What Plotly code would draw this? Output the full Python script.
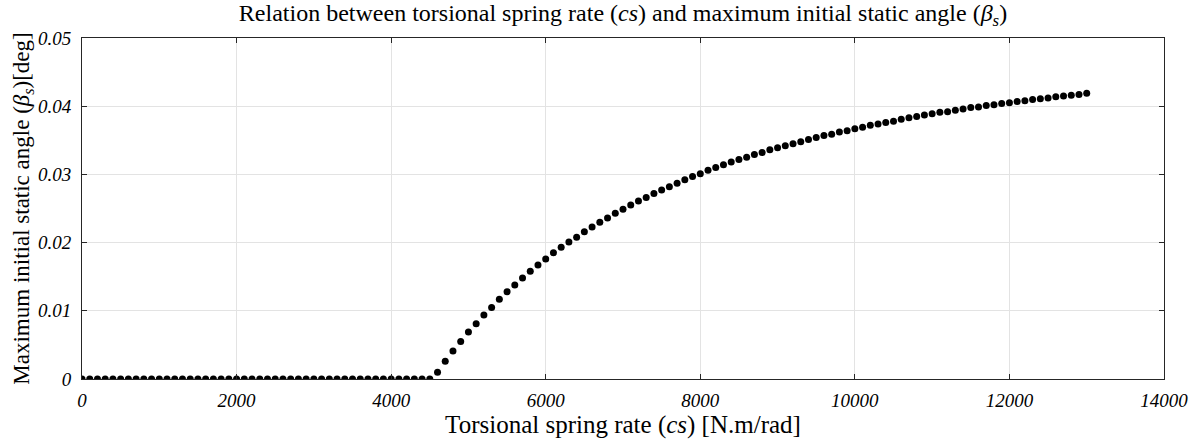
import plotly.graph_objects as go

# Torsional spring rate samples (N.m/rad), 0 .. 13000 in steps of 100
spring_rate = list(range(0, 13001, 100))

# Maximum initial static angle (deg)
beta_zero_part = [
    0.0, 0.0, 0.0, 0.0, 0.0, 0.0, 0.0, 0.0, 0.0, 0.0,
    0.0, 0.0, 0.0, 0.0, 0.0, 0.0, 0.0, 0.0, 0.0, 0.0,
    0.0, 0.0, 0.0, 0.0, 0.0, 0.0, 0.0, 0.0, 0.0, 0.0,
    0.0, 0.0, 0.0, 0.0, 0.0, 0.0, 0.0, 0.0, 0.0, 0.0,
    0.0, 0.0, 0.0, 0.0, 0.0, 0.0,
]  # 0 .. 4500
beta_rise_part = [
    0.0010, 0.0026, 0.0041, 0.0055, 0.0069, 0.0081, 0.0094, 0.0105, 0.0117, 0.0128,  # 4600-5500
    0.0138, 0.0148, 0.0158, 0.0167, 0.0176, 0.0185, 0.0193, 0.0201, 0.0208, 0.0216,  # 5600-6500
    0.0223, 0.0230, 0.0236, 0.0243, 0.0249, 0.0255, 0.0261, 0.0266, 0.0272, 0.0277,  # 6600-7500
    0.0282, 0.0287, 0.0292, 0.0297, 0.0301, 0.0306, 0.0310, 0.0314, 0.0318, 0.0322,  # 7600-8500
    0.0325, 0.0329, 0.0332, 0.0336, 0.0339, 0.0342, 0.0345, 0.0348, 0.0351, 0.0354,  # 8600-9500
    0.0357, 0.0359, 0.0362, 0.0364, 0.0367, 0.0369, 0.0372, 0.0374, 0.0376, 0.0378,  # 9600-10500
    0.0381, 0.0383, 0.0385, 0.0387, 0.0389, 0.0391, 0.0392, 0.0394, 0.0396, 0.0398,  # 10600-11500
    0.0399, 0.0401, 0.0402, 0.0404, 0.0405, 0.0407, 0.0408, 0.0410, 0.0411, 0.0412,  # 11600-12500
    0.0414, 0.0415, 0.0416, 0.0417, 0.0419,                                          # 12600-13000
]
beta_s = beta_zero_part + beta_rise_part

x_ticks = [0, 2000, 4000, 6000, 8000, 10000, 12000, 14000]
x_tick_labels = ["0", "2000", "4000", "6000", "8000", "10000", "12000", "14000"]
y_ticks = [0, 0.01, 0.02, 0.03, 0.04, 0.05]
y_tick_labels = ["0", "0.01", "0.02", "0.03", "0.04", "0.05"]

SERIF = "Liberation Serif, Times New Roman, serif"
AXIS_COLOR = "#262626"
GRID_COLOR = "#e3e3e3"

fig = go.Figure()
fig.add_trace(go.Scatter(
    x=spring_rate, y=beta_s, mode="markers",
    marker=dict(color="black", size=7, line=dict(width=0)),
    showlegend=False,
))

fig.update_layout(
    width=1200, height=443,
    margin=dict(l=82, r=36, t=38, b=64),
    paper_bgcolor="white", plot_bgcolor="white",
    title=dict(
        text="Relation between torsional spring rate (<i>cs</i>) and maximum initial static angle (<i>β<sub>s</sub></i>)",
        x=(82 + 1164) / 2 / 1200, xanchor="center",
        y=1 - 13 / 443, yanchor="middle",
        font=dict(family=SERIF, size=24, color="black"),
    ),
    font=dict(family=SERIF, color="black"),
)

common_axis = dict(
    showline=True, linecolor=AXIS_COLOR, linewidth=1, mirror="allticks",
    ticks="inside", ticklen=5, tickcolor=AXIS_COLOR, tickwidth=1,
    showgrid=True, gridcolor=GRID_COLOR, gridwidth=1,
    zeroline=False,
    tickfont=dict(family=SERIF, size=19, color="black", style="italic"),
)

fig.update_xaxes(
    range=[0, 14000], tickvals=x_ticks, ticktext=x_tick_labels,
    title=dict(text="Torsional spring rate (<i>cs</i>) [N.m/rad]",
               font=dict(family=SERIF, size=25, color="black"), standoff=1),
    ticklabelstandoff=4,
    **common_axis,
)
fig.update_yaxes(
    range=[0, 0.05], tickvals=y_ticks, ticktext=y_tick_labels,
    title=dict(text="Maximum initial static angle (<i>β<sub>s</sub></i>)[deg]",
               font=dict(family=SERIF, size=23, color="black"), standoff=1),
    ticklabelstandoff=6,
    **common_axis,
)

fig.write_html("out.html")
